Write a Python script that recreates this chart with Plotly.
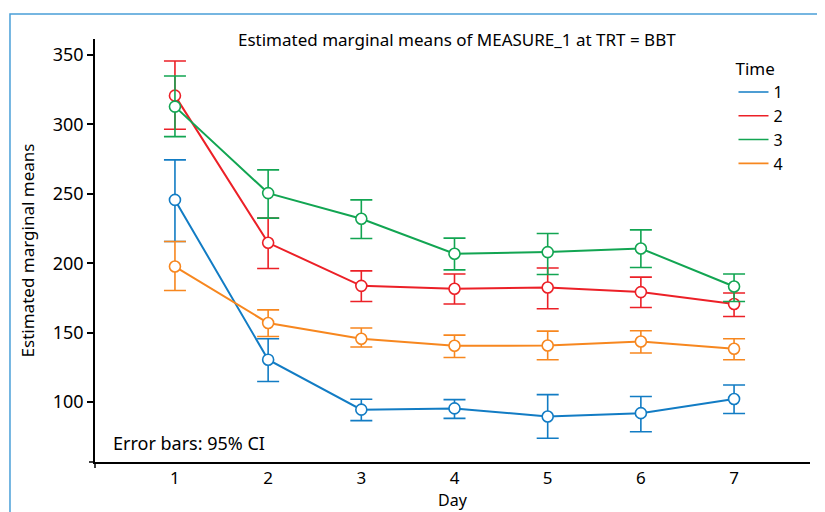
import plotly.graph_objects as go

days = [1, 2, 3, 4, 5, 6, 7]
time_labels = ["1", "2", "3", "4"]

mean_t1 = [245.6, 130.5, 94.5, 95.4, 89.6, 92.0, 102.2]
upper_t1 = [274.4, 145.6, 102.0, 101.7, 105.3, 104.0, 112.3]
lower_t1 = [215.6, 114.8, 86.6, 88.2, 73.9, 78.6, 91.7]

mean_t2 = [320.7, 214.7, 183.7, 181.6, 182.5, 179.2, 170.6]
upper_t2 = [345.7, 232.5, 194.5, 192.2, 196.5, 190.0, 178.5]
lower_t2 = [296.5, 196.2, 172.4, 170.6, 167.2, 168.1, 161.6]

mean_t3 = [312.8, 250.5, 232.0, 206.8, 208.0, 210.6, 183.2]
upper_t3 = [334.9, 267.2, 245.6, 218.1, 221.4, 224.0, 192.2]
lower_t3 = [291.2, 232.5, 217.8, 195.2, 191.9, 196.9, 172.4]

mean_t4 = [197.6, 156.9, 145.6, 140.5, 140.7, 143.6, 138.4]
upper_t4 = [215.6, 166.4, 153.3, 148.2, 151.1, 151.3, 145.6]
lower_t4 = [180.3, 147.2, 139.6, 132.1, 130.5, 135.3, 130.5]

colors = ["#127cc4", "#ec2027", "#12a552", "#f7871f"]

series = [
    (mean_t1, upper_t1, lower_t1),
    (mean_t2, upper_t2, lower_t2),
    (mean_t3, upper_t3, lower_t3),
    (mean_t4, upper_t4, lower_t4),
]

FONT = "Noto Sans"
fig = go.Figure()

for (m, up, lo), c, name in zip(series, colors, time_labels):
    plus = [u - v for u, v in zip(up, m)]
    minus = [v - l for v, l in zip(m, lo)]
    fig.add_trace(go.Scatter(
        x=days, y=m, mode="lines+markers", name=name, showlegend=False,
        line=dict(color=c, width=2),
        marker=dict(symbol="circle", size=11, color="white", line=dict(color=c, width=1.6)),
        error_y=dict(type="data", symmetric=False, array=plus, arrayminus=minus,
                     color=c, thickness=1.6, width=11),
    ))

for c, name in zip(colors, time_labels):
    fig.add_trace(go.Scatter(
        x=[None], y=[None], mode="lines", name=name,
        line=dict(color=c, width=1.6), showlegend=True,
    ))

fig.update_layout(
    width=817, height=504,
    margin=dict(l=87, r=15, t=31, b=50, autoexpand=False),
    paper_bgcolor="white", plot_bgcolor="white",
    font=dict(family=FONT, size=17, color="black"),
    showlegend=True,
    legend=dict(
        title=dict(text="Time", side="top", font=dict(size=17)),
        x=0.893, y=0.967, xanchor="left", yanchor="top",
        font=dict(size=16), bgcolor="rgba(0,0,0,0)", tracegroupgap=0,
        itemwidth=30,
    ),
    xaxis=dict(
        range=[0.142, 7.815], tickmode="array", tickvals=days,
        ticktext=[str(d) for d in days], ticks="", showgrid=False,
        zeroline=False, showline=True, linecolor="black", linewidth=1.5,
        title=dict(text="Day", standoff=6, font=dict(size=16)), tickfont=dict(size=17),
        automargin=False,
    ),
    yaxis=dict(
        range=[56.8, 361.5], tickmode="array", tickvals=[100, 150, 200, 250, 300, 350],
        ticks="outside", ticklen=6, tickwidth=1.5, tickcolor="black",
        showgrid=False, zeroline=False, showline=True, linecolor="black", linewidth=1.5,
        title=dict(text="Estimated marginal means", standoff=14, font=dict(size=17)),
        tickfont=dict(size=18), automargin=False,
    ),
    annotations=[
        dict(text="Estimated marginal means of MEASURE_1 at TRT = BBT", x=0.506, y=1.0,
             xref="paper", yref="paper", xanchor="center", yanchor="middle",
             showarrow=False, font=dict(size=17)),
        dict(text="Error bars: 95% CI", x=0.022, y=0.045, xref="paper", yref="paper",
             xanchor="left", yanchor="middle", showarrow=False, font=dict(size=18)),
    ],
    shapes=[
        dict(type="rect", xref="paper", yref="paper", x0=-0.1189, x1=1.0168,
             y0=-0.2, y1=1.0591, line=dict(color="#4a9fd8", width=1.5), layer="below"),
        dict(type="line", xref="paper", yref="paper", x0=-0.0084, x1=0, y0=0, y1=0,
             line=dict(color="black", width=1.5)),
        dict(type="line", xref="paper", yref="paper", x0=0, x1=0, y0=-0.0142, y1=0,
             line=dict(color="black", width=1.5)),
    ],
)

fig.write_html("out.html")
